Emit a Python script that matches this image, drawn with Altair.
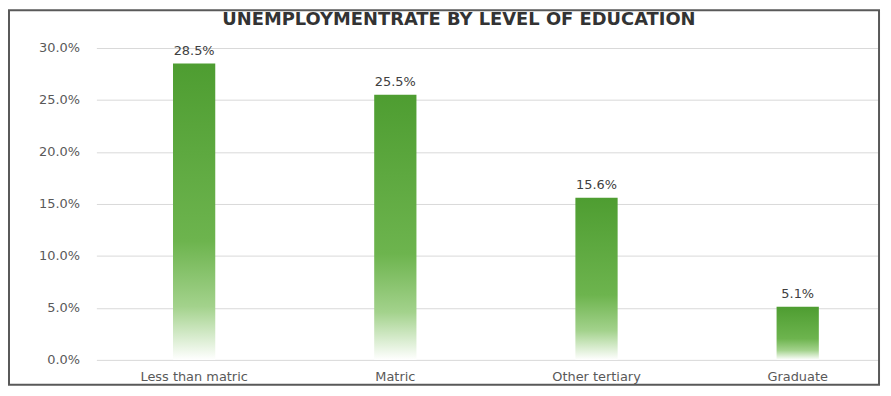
import altair as alt
import pandas as pd

categories = ["Less than matric", "Matric", "Other tertiary", "Graduate"]
rates = [0.285, 0.255, 0.156, 0.051]
y_ticks = [0.0, 0.05, 0.10, 0.15, 0.20, 0.25, 0.30]
title_text = "UNEMPLOYMENTRATE BY LEVEL OF EDUCATION"

df = pd.DataFrame({"category": categories, "rate": rates})

FONT = "DejaVu Sans"
LABEL_COLOR = "#595959"

grad = alt.Gradient(
    gradient="linear",
    x1=0, y1=0, x2=0, y2=1,
    stops=[
        alt.GradientStop(color="#4e9d31", offset=0),
        alt.GradientStop(color="#6db44e", offset=0.6),
        alt.GradientStop(color="#a3d28c", offset=0.82),
        alt.GradientStop(color="#ffffff", offset=1),
    ],
)

x_enc = alt.X(
    "category:N",
    sort=categories,
    scale=alt.Scale(paddingInner=0.79, paddingOuter=0.34, align=0.56),
    axis=alt.Axis(
        title=None, labelAngle=0, domain=False, ticks=False, grid=False,
        labelPadding=11, labelFontSize=13, labelColor=LABEL_COLOR, labelFont=FONT,
    ),
)
y_enc = alt.Y(
    "rate:Q",
    scale=alt.Scale(domain=[0, 0.30], nice=False),
    axis=alt.Axis(
        title=None, format=".1%", values=y_ticks, domain=False, ticks=False,
        labelPadding=17, labelFontSize=13, labelColor=LABEL_COLOR, labelFont=FONT,
        gridColor="#d9d9d9", gridWidth=1,
    ),
)

base = alt.Chart(df).encode(x=x_enc, y=y_enc)

bars = base.mark_bar(color=grad)
labels = base.mark_text(
    baseline="bottom", dy=-6, fontSize=13, font=FONT, color="#404040"
).encode(text=alt.Text("rate:Q", format=".1%"))

frame_df = pd.DataFrame({"title": [title_text]})

border = alt.Chart(frame_df).mark_rect(
    filled=False, stroke="#595959", strokeWidth=2
).encode(
    x=alt.value(-88), x2=alt.value(788), y=alt.value(-38), y2=alt.value(339)
)

title = alt.Chart(frame_df).mark_text(
    font=FONT, fontSize=18, fontWeight="bold", color="#333333",
    align="center", baseline="middle",
).encode(
    text="title:N", x=alt.value(365), y=alt.value(-28)
)

chart = alt.layer(bars, labels, border, title).properties(
    width=788,
    height=314,
    autosize=alt.AutoSizeParams(type="none"),
    padding={"left": 89, "top": 39, "right": 4, "bottom": 27},
).configure_view(stroke=None)

chart.save("out.html", embed_options={"renderer": "svg", "actions": False})
